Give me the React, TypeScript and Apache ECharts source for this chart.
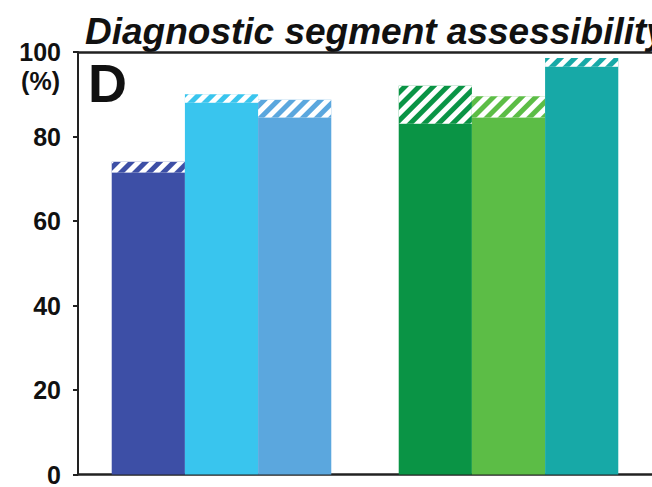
import React, { useEffect, useRef } from "react";
import * as echarts from "echarts";

// Two groups of three bars; each bar = solid part + hatched part stacked on top
const groups = ["Group 1", "Group 2"];
const solidA = [71.5, 83.0];
const hatchA = [2.5, 9.0];
const solidB = [88.0, 84.5];
const hatchB = [2.0, 5.0];
const solidC = [84.5, 96.5];
const hatchC = [4.2, 2.1];
const colorsA = ["#3d4fa6", "#0a9445"];
const colorsB = ["#39c5ee", "#5cbd46"];
const colorsC = ["#5ba7de", "#17a9a7"];
const yTicks = { min: 0, max: 100, interval: 20 };
const titleText = "Diagnostic segment assessibility";
const panelLetter = "D";
const unitText = "(%)";

const FONT = "Arial, sans-serif";

const hatch = {
  symbol: "rect",
  symbolSize: 1,
  dashArrayX: [1, 0],
  dashArrayY: [5, 5],
  rotation: -Math.PI / 4,
  color: "#ffffff",
};

function makeSeries(stack: string, solid: number[], extra: number[], colors: string[]) {
  return [
    {
      type: "bar",
      stack,
      barGap: "0%",
      barCategoryGap: "23.5%",
      data: solid.map((v, i) => ({ value: v, itemStyle: { color: colors[i] } })),
    },
    {
      type: "bar",
      stack,
      barGap: "0%",
      barCategoryGap: "23.5%",
      data: extra.map((v, i) => ({
        value: v,
        itemStyle: { color: colors[i], decal: hatch },
      })),
    },
  ];
}

export default function App() {
  const ref = useRef<HTMLDivElement>(null);

  useEffect(() => {
    document.body.style.margin = "0";
    if (!ref.current) return;
    const chart = echarts.init(ref.current, null, { renderer: "svg" });
    chart.setOption({
      animation: false,
      grid: { left: 78, right: 0, top: 52, bottom: 11 },
      xAxis: [
        {
          type: "category",
          data: groups,
          position: "bottom",
          axisLine: { show: true, onZero: false, lineStyle: { color: "#222", width: 2.5 } },
          axisTick: { show: false },
          axisLabel: { show: false },
        },
        {
          type: "category",
          data: groups,
          position: "top",
          axisLine: { show: true, onZero: false, lineStyle: { color: "#222", width: 2.5 } },
          axisTick: { show: false },
          axisLabel: { show: false },
        },
      ],
      yAxis: {
        type: "value",
        min: yTicks.min,
        max: yTicks.max,
        interval: yTicks.interval,
        splitLine: { show: false },
        axisLine: { show: true, onZero: false, lineStyle: { color: "#222", width: 2 } },
        axisTick: { show: true, length: 5, lineStyle: { color: "#222", width: 2 } },
        axisLabel: {
          margin: 17,
          color: "#111",
          fontSize: 25,
          fontWeight: "bold",
          fontFamily: FONT,
        },
      },
      series: [
        ...makeSeries("a", solidA, hatchA, colorsA),
        ...makeSeries("b", solidB, hatchB, colorsB),
        ...makeSeries("c", solidC, hatchC, colorsC),
      ],
      graphic: [
        {
          type: "text",
          left: 85,
          top: 13,
          style: {
            text: titleText,
            fill: "#111",
            font: `italic bold 37px ${FONT}`,
          },
        },
        {
          type: "text",
          x: 60,
          y: 81,
          style: {
            text: unitText,
            fill: "#111",
            font: `bold 25px ${FONT}`,
            align: "right",
            verticalAlign: "middle",
          },
        },
        {
          type: "text",
          left: 88,
          top: 56,
          style: {
            text: panelLetter,
            fill: "#111",
            font: `bold 54px ${FONT}`,
          },
        },
      ],
    });
    return () => chart.dispose();
  }, []);

  return <div ref={ref} style={{ width: 652, height: 487 }} />;
}
